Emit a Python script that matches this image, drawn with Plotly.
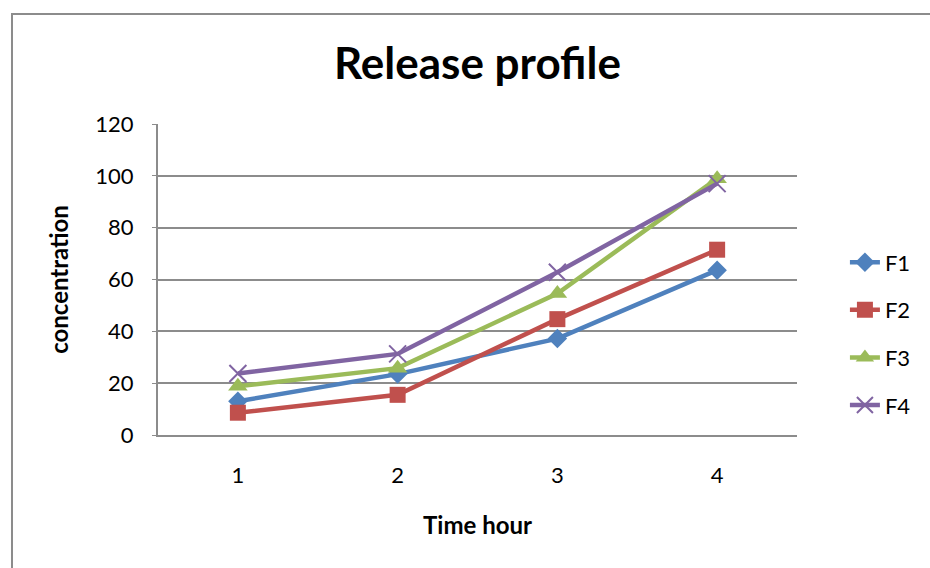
import plotly.graph_objects as go

# Release profile data: concentration released at each hour
hours = [1, 2, 3, 4]
series_names = ["F1", "F2", "F3", "F4"]
f1 = [13.0, 23.5, 37.2, 63.6]
f2 = [8.6, 15.5, 44.7, 71.5]
f3 = [18.8, 25.8, 54.6, 98.9]
f4 = [23.7, 31.3, 62.8, 97.0]
y_ticks = [0, 20, 40, 60, 80, 100, 120]

colors = ["#4F81BD", "#C0504D", "#9BBB59", "#8064A2"]
symbols = ["diamond", "square", "triangle-up", "x-thin-open"]
sizes = [15, 16, 17, 17]

fig = go.Figure()
for name, vals, col, sym, sz in zip(series_names, [f1, f2, f3, f4], colors, symbols, sizes):
    marker = dict(symbol=sym, size=sz, color=col)
    if sym == "x-thin-open":
        marker["line"] = dict(color=col, width=2)
    fig.add_trace(go.Scatter(
        x=hours, y=vals, name=name, mode="lines+markers",
        line=dict(color=col, width=4.5), marker=marker,
        legendgroup=name,
    ))

grid = "#8c8c8c"
font_family = "Lato, 'Open Sans', sans-serif"

# Chart border (Excel-style frame)
fig.add_shape(type="rect", xref="paper", yref="paper",
              x0=-0.2285, x1=2.0, y0=-1.0, y1=1.354,
              line=dict(color="#8c8c8c", width=2), fillcolor="rgba(0,0,0,0)", layer="below")

fig.update_layout(
    width=930, height=568,
    margin=dict(l=158, r=133, t=124, b=133),
    paper_bgcolor="white", plot_bgcolor="white",
    font=dict(family=font_family, color="black", size=22),
    title=dict(text="<b>Release profile</b>", x=0.5, xref="paper", xanchor="center",
               y=1 - 64 / 568, yanchor="middle", font=dict(size=44, family=font_family)),
    legend=dict(x=1.075, y=0.325, xanchor="left", yanchor="middle",
                font=dict(size=22), tracegroupgap=16, bgcolor="rgba(0,0,0,0)"),
    showlegend=True,
)
fig.update_xaxes(
    range=[0.5, 4.5], tickvals=hours, ticktext=[str(h) for h in hours],
    showgrid=False, zeroline=False, showline=True, linecolor=grid, linewidth=2,
    ticks="", ticklabelstandoff=20,
    title=dict(text="<b>Time hour</b>", font=dict(size=24), standoff=30),
)
fig.update_yaxes(
    range=[0, 120], tickvals=y_ticks, showgrid=True, gridcolor=grid, gridwidth=1.5,
    zeroline=False, showline=True, linecolor=grid, linewidth=2,
    ticks="outside", ticklen=4, tickcolor=grid, ticklabelstandoff=14,
    title=dict(text="<b>concentration</b>", font=dict(size=24), standoff=20),
)

fig.write_html("out.html")
